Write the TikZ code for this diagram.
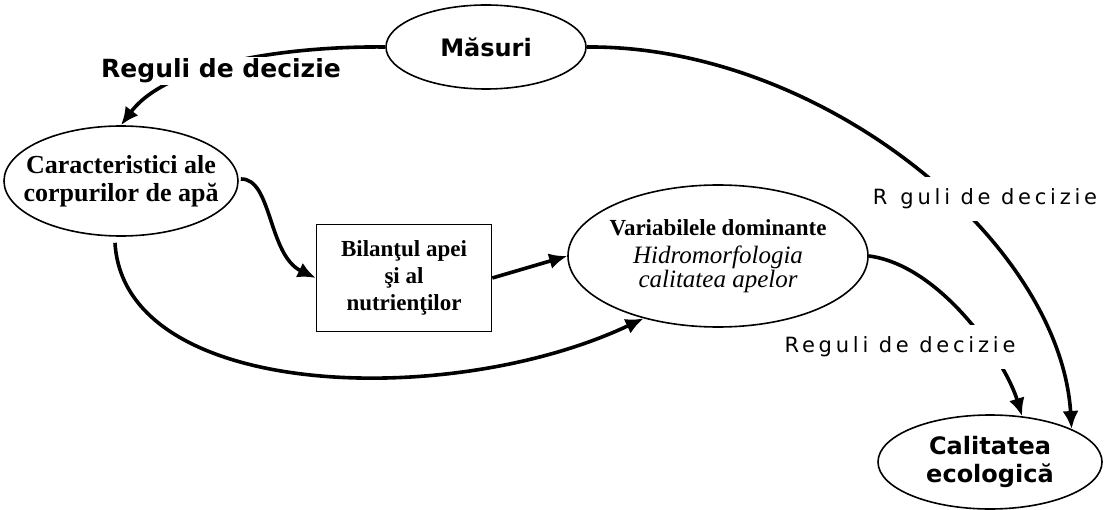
\documentclass[tikz,border=0pt]{standalone}
\usepackage{fontspec}
\setmainfont{Liberation Serif}
\newfontfamily\vsans{DejaVu Sans}
\newfontfamily\vsanssp{DejaVu Sans}[LetterSpace=18]
\usetikzlibrary{shapes.geometric,arrows.meta}

\begin{document}
\begin{tikzpicture}[x=1pt,y=-1pt,
  oval/.style={ellipse, draw, line width=1.6pt, inner xsep=-30pt, inner ysep=-8pt, align=center},
  stepbox/.style={rectangle, draw, line width=1.6pt, inner sep=0pt, align=center},
  conn/.style={line width=3.6pt},
  tip/.style={-{Latex[length=18pt,width=16pt]}},
  boldrule/.style={fill=white, inner xsep=2pt, inner ysep=2pt, font=\vsans\bfseries\fontsize{25}{28}\selectfont},
  thinrule/.style={fill=white, inner xsep=2pt, font=\vsanssp\fontsize{21}{24}\selectfont}
]
\useasboundingbox (0,0) rectangle (1115,510);

% main boxes
\node[oval, minimum width=200pt, minimum height=84pt, font=\vsans\bfseries\fontsize{24}{28}\selectfont]
  (mas) at (486,47) {Măsuri};
\node[oval, minimum width=234pt, minimum height=110pt, font=\bfseries\fontsize{26}{28}\selectfont]
  (car) at (121,181) {Caracteristici ale\\corpurilor de apă};
\node[stepbox, minimum width=175pt, minimum height=107pt, font=\bfseries\fontsize{23}{27}\selectfont]
  (bil) at (404,278) {Bilanţul apei\\şi al\\nutrienţilor};
\node[oval, minimum width=300pt, minimum height=142pt]
  (var) at (718,256) {\fontsize{23}{27}\selectfont\bfseries Variabilele dominante\\[9pt]
    \fontsize{25}{27}\selectfont\mdseries\itshape Hidromorfologia\\
    \fontsize{25}{27}\selectfont\mdseries\itshape calitatea apelor};
\node[oval, minimum width=224pt, minimum height=94pt, font=\vsans\bfseries\fontsize{24}{28}\selectfont]
  (cal) at (990,462) {Calitatea\\ecologică};

% connectors
\draw[conn, tip] (mas.west) .. controls (300,46) and (170,60) .. (car.north);
\draw[conn, tip] (car.east) ++(2,-2) .. controls (272,178) and (268,255) .. (bil.west);
\draw[conn, tip] (bil.east) -- (var.west);
\draw[conn, tip] (car.south) ++(-6,6) .. controls (124,400) and (450,410) .. (var.220);
\draw[conn, tip] (mas.east) .. controls (820,45) and (1060,240) .. (cal.22);
\draw[conn, tip] (var.east) .. controls (940,265) and (1005,360) .. (cal.55);

% rule labels laid over the connectors
\node[boldrule] (r1) at (221,71) {Reguli de decizie};
\node[thinrule, inner ysep=12pt] (r2) at (985,199) {R\phantom{e}guli de decizie};
\node[thinrule, inner ysep=12pt] (r3) at (900,347) {Reguli de decizie};
\end{tikzpicture}
\end{document}
